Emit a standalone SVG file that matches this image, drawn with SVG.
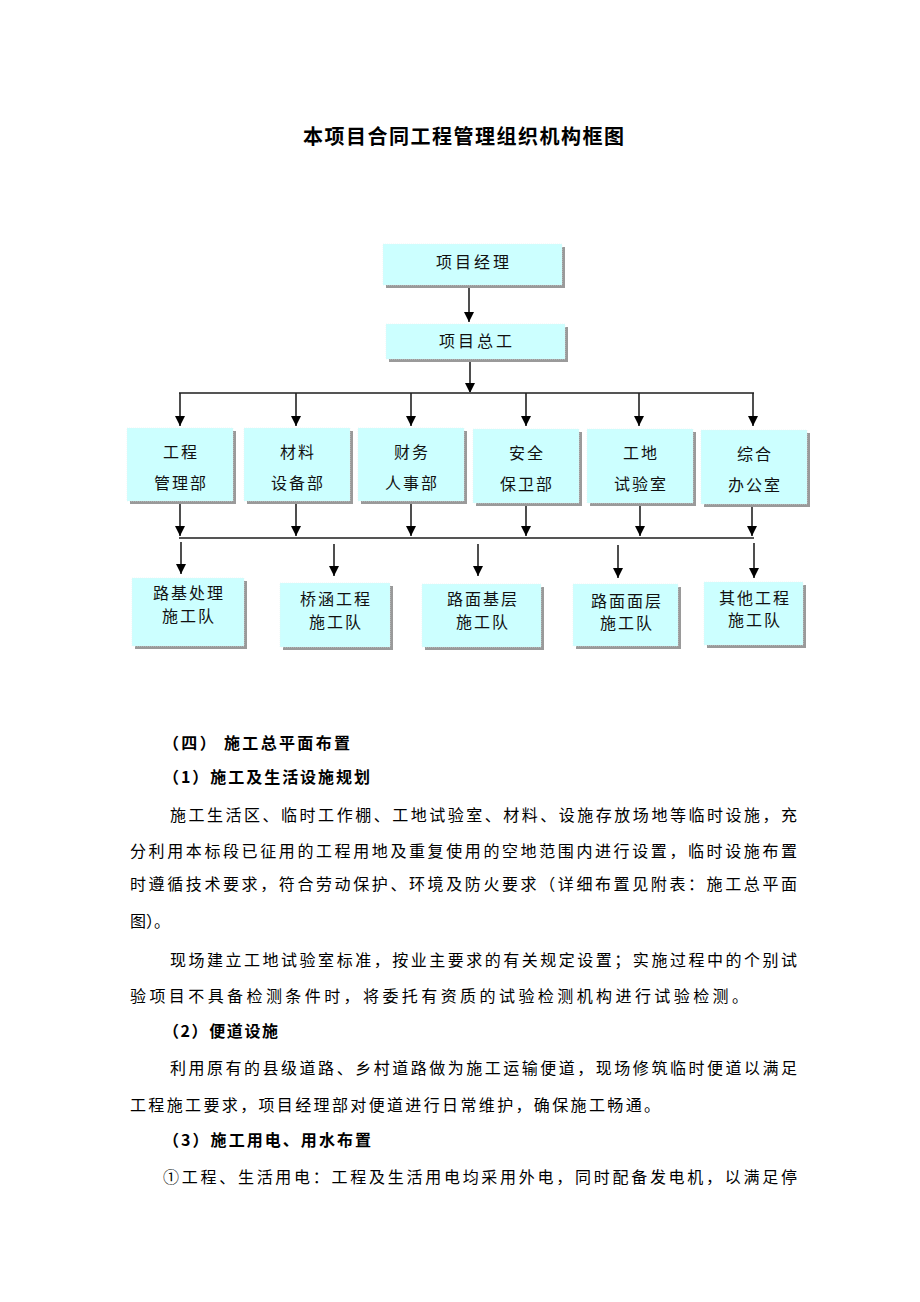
<svg xmlns="http://www.w3.org/2000/svg" width="920" height="1302" viewBox="0 0 920 1302">
<style>
.bg{fill:#ffffff}
.sh{fill:#9a9a9a}
.bx{fill:#ccffff;stroke:#e6f2f2;stroke-width:0.6;stroke-dasharray:1 1}
.lb{font-family:"Noto Sans CJK SC","Noto Sans",sans-serif;font-size:16px;fill:#111;text-anchor:middle;letter-spacing:2px}
.ln{stroke:#222;stroke-width:1.6;fill:none}
.hl{stroke:#555;stroke-width:1.8;fill:none}
.tt{font-family:"Noto Sans CJK SC",sans-serif;font-size:20px;font-weight:bold;fill:#000;letter-spacing:1.5px}
.p{font-family:"Noto Sans CJK SC",sans-serif;font-size:16px;fill:#000}
.h{font-family:"Noto Sans CJK SC",sans-serif;font-size:16px;font-weight:bold;fill:#000;letter-spacing:2px}
</style>
<defs>
<marker id="arr" markerUnits="userSpaceOnUse" markerWidth="12" markerHeight="12" refX="10" refY="5" orient="auto">
<path d="M0,0 L10,5 L0,10 Z" fill="#000"/>
</marker>
</defs>
<rect class="bg" x="0" y="0" width="920" height="1302"/>
<text class="tt" x="303" y="144">本项目合同工程管理组织机构框图</text>

<g id="connectors">
<line class="ln" x1="469" y1="288" x2="469" y2="322" marker-end="url(#arr)"/>
<line class="ln" x1="470" y1="362" x2="470" y2="393" marker-end="url(#arr)"/>
<line class="hl" x1="179" y1="393" x2="754" y2="393"/>
<line class="ln" x1="180" y1="393" x2="180" y2="426" marker-end="url(#arr)"/>
<line class="ln" x1="296" y1="393" x2="296" y2="426" marker-end="url(#arr)"/>
<line class="ln" x1="411" y1="393" x2="411" y2="426" marker-end="url(#arr)"/>
<line class="ln" x1="526" y1="393" x2="526" y2="426" marker-end="url(#arr)"/>
<line class="ln" x1="639" y1="393" x2="639" y2="426" marker-end="url(#arr)"/>
<line class="ln" x1="753" y1="393" x2="753" y2="426" marker-end="url(#arr)"/>
<line class="ln" x1="180" y1="504" x2="180" y2="536" marker-end="url(#arr)"/>
<line class="ln" x1="296" y1="504" x2="296" y2="536" marker-end="url(#arr)"/>
<line class="ln" x1="411" y1="504" x2="411" y2="536" marker-end="url(#arr)"/>
<line class="ln" x1="526" y1="505" x2="526" y2="536" marker-end="url(#arr)"/>
<line class="ln" x1="640" y1="505" x2="640" y2="536" marker-end="url(#arr)"/>
<line class="ln" x1="752" y1="506" x2="752" y2="536" marker-end="url(#arr)"/>
<line class="hl" x1="179" y1="538" x2="754" y2="538"/>
<line class="ln" x1="181" y1="542" x2="181" y2="574" marker-end="url(#arr)"/>
<line class="ln" x1="334" y1="544" x2="334" y2="576" marker-end="url(#arr)"/>
<line class="ln" x1="478" y1="544" x2="478" y2="576" marker-end="url(#arr)"/>
<line class="ln" x1="618" y1="545" x2="618" y2="578" marker-end="url(#arr)"/>
<line class="ln" x1="754" y1="543" x2="754" y2="578" marker-end="url(#arr)"/>
</g>

<g id="n-pm">
<rect class="sh" x="386" y="247" width="179" height="41"/>
<rect class="bx" x="383" y="244" width="179" height="41"/>
<text class="lb" x="474" y="268" style="letter-spacing:3px">项目经理</text>
</g>
<g id="n-ce">
<rect class="sh" x="389" y="327" width="179" height="35"/>
<rect class="bx" x="386" y="324" width="179" height="35"/>
<text class="lb" x="477" y="347" style="letter-spacing:3px">项目总工</text>
</g>

<g id="n-d1">
<rect class="sh" x="130" y="431" width="106" height="73"/>
<rect class="bx" x="127" y="428" width="106" height="73"/>
<text class="lb" x="181" y="458">工程</text>
<text class="lb" x="181" y="489">管理部</text>
</g>
<g id="n-d2">
<rect class="sh" x="247" y="431" width="106" height="73"/>
<rect class="bx" x="244" y="428" width="106" height="73"/>
<text class="lb" x="298" y="458">材料</text>
<text class="lb" x="298" y="489">设备部</text>
</g>
<g id="n-d3">
<rect class="sh" x="361" y="431" width="106" height="73"/>
<rect class="bx" x="358" y="428" width="106" height="73"/>
<text class="lb" x="412" y="458">财务</text>
<text class="lb" x="412" y="489">人事部</text>
</g>
<g id="n-d4">
<rect class="sh" x="476" y="432" width="106" height="74"/>
<rect class="bx" x="473" y="429" width="106" height="74"/>
<text class="lb" x="527" y="459">安全</text>
<text class="lb" x="527" y="490">保卫部</text>
</g>
<g id="n-d5">
<rect class="sh" x="590" y="432" width="106" height="74"/>
<rect class="bx" x="587" y="429" width="106" height="74"/>
<text class="lb" x="641" y="459">工地</text>
<text class="lb" x="641" y="490">试验室</text>
</g>
<g id="n-d6">
<rect class="sh" x="704" y="433" width="106" height="74"/>
<rect class="bx" x="701" y="430" width="106" height="74"/>
<text class="lb" x="755" y="460">综合</text>
<text class="lb" x="755" y="491">办公室</text>
</g>

<g id="n-t1">
<rect class="sh" x="135" y="581" width="112" height="68"/>
<rect class="bx" x="132" y="578" width="112" height="68"/>
<text class="lb" x="189" y="599">路基处理</text>
<text class="lb" x="189" y="622">施工队</text>
</g>
<g id="n-t2">
<rect class="sh" x="283" y="586" width="110" height="64"/>
<rect class="bx" x="280" y="583" width="110" height="64"/>
<text class="lb" x="336" y="605">桥涵工程</text>
<text class="lb" x="336" y="628">施工队</text>
</g>
<g id="n-t3">
<rect class="sh" x="425" y="587" width="119" height="63"/>
<rect class="bx" x="422" y="584" width="119" height="63"/>
<text class="lb" x="483" y="605">路面基层</text>
<text class="lb" x="483" y="628">施工队</text>
</g>
<g id="n-t4">
<rect class="sh" x="576" y="587" width="105" height="62"/>
<rect class="bx" x="573" y="584" width="105" height="62"/>
<text class="lb" x="627" y="607">路面面层</text>
<text class="lb" x="627" y="629">施工队</text>
</g>
<g id="n-t5">
<rect class="sh" x="707" y="585" width="99" height="63"/>
<rect class="bx" x="704" y="582" width="99" height="63"/>
<text class="lb" x="755" y="604">其他工程</text>
<text class="lb" x="755" y="626">施工队</text>
</g>

<g id="body">
<text class="h" x="163" y="749" textLength="189" lengthAdjust="spacing">（四）  施工总平面布置</text>
<text class="h" x="163" y="783" textLength="209" lengthAdjust="spacing">（1）施工及生活设施规划</text>
<text class="p" x="170" y="821" textLength="627" lengthAdjust="spacing">施工生活区、临时工作棚、工地试验室、材料、设施存放场地等临时设施，充</text>
<text class="p" x="130" y="857" textLength="667" lengthAdjust="spacing">分利用本标段已征用的工程用地及重复使用的空地范围内进行设置，临时设施布置</text>
<text class="p" x="130" y="890" textLength="667" lengthAdjust="spacing">时遵循技术要求，符合劳动保护、环境及防火要求（详细布置见附表：施工总平面</text>
<text class="p" x="130" y="927">图）。</text>
<text class="p" x="170" y="966" textLength="627" lengthAdjust="spacing">现场建立工地试验室标准，按业主要求的有关规定设置；实施过程中的个别试</text>
<text class="p" x="130" y="1002" textLength="618" lengthAdjust="spacing">验项目不具备检测条件时，将委托有资质的试验检测机构进行试验检测。</text>
<text class="h" x="163" y="1037" textLength="117" lengthAdjust="spacing">（2）便道设施</text>
<text class="p" x="170" y="1074" textLength="627" lengthAdjust="spacing">利用原有的县级道路、乡村道路做为施工运输便道，现场修筑临时便道以满足</text>
<text class="p" x="130" y="1111" textLength="530" lengthAdjust="spacing">工程施工要求，项目经理部对便道进行日常维护，确保施工畅通。</text>
<text class="h" x="163" y="1146" textLength="210" lengthAdjust="spacing">（3）施工用电、用水布置</text>
<text class="p" x="163" y="1183" textLength="634" lengthAdjust="spacing">①工程、生活用电：工程及生活用电均采用外电，同时配备发电机，以满足停</text>
</g>
</svg>
